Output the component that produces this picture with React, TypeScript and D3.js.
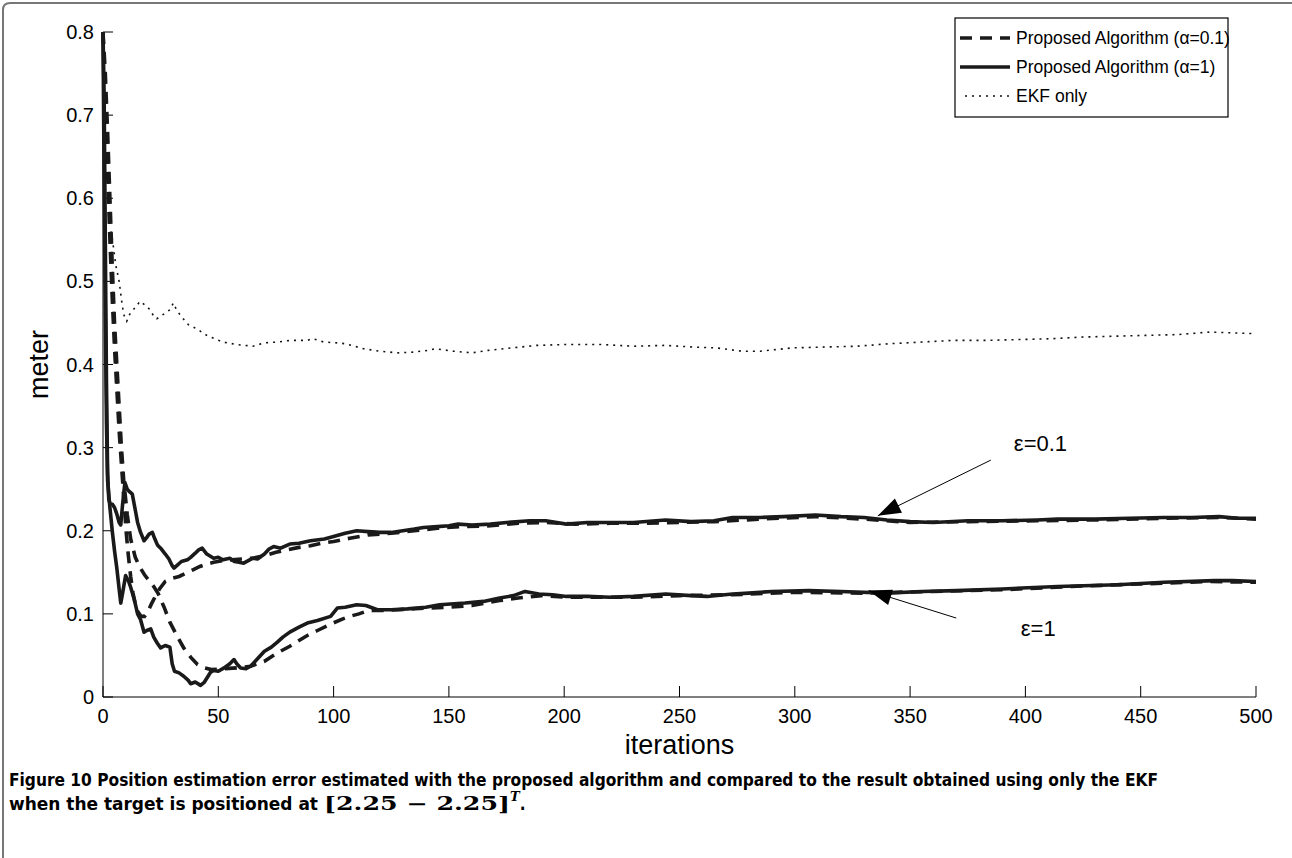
import * as d3 from "d3";

// iterations vs position error (meter)
const xTicks = [0, 50, 100, 150, 200, 250, 300, 350, 400, 450, 500];
const yTicks = [0, 0.1, 0.2, 0.3, 0.4, 0.5, 0.6, 0.7, 0.8];

// eps=0.1, alpha=0.1 (dashed)
const eps01Dashed: [number, number][] = [
  [0, 0.8], [1, 0.72], [2, 0.63], [3, 0.55], [4, 0.48], [5, 0.42], [6, 0.37], [7, 0.32], [8, 0.28],
  [9, 0.24], [10, 0.2], [11, 0.17], [12, 0.145], [13, 0.125], [14, 0.112], [15, 0.103], [16.5, 0.097],
  [18, 0.097], [19.5, 0.103], [21, 0.112], [22.5, 0.12], [24.5, 0.13], [27, 0.139], [30, 0.143],
  [33, 0.145], [36, 0.149], [39, 0.153], [42, 0.157], [45, 0.16], [48, 0.162], [52, 0.164], [56, 0.165],
  [60, 0.166], [65, 0.167], [70, 0.17], [75, 0.174], [80, 0.177], [85, 0.18], [90, 0.182], [95, 0.185],
  [100, 0.187], [107, 0.191], [115, 0.195], [125, 0.197], [135, 0.2], [145, 0.203], [155, 0.205],
  [168, 0.206], [180, 0.209], [192, 0.21], [205, 0.208], [220, 0.209], [235, 0.209], [250, 0.21],
  [265, 0.211], [285, 0.214], [309, 0.217], [330, 0.214], [350, 0.21], [375, 0.211], [405, 0.212],
  [430, 0.213], [460, 0.215], [484, 0.216], [500, 0.214],
];

// eps=0.1, alpha=1 (solid)
const eps01Solid: [number, number][] = [
  [0, 0.8], [0.5, 0.72], [1, 0.55], [1.5, 0.38], [2, 0.27], [2.5, 0.238], [3, 0.233], [4, 0.232],
  [5, 0.228], [6, 0.22], [7, 0.21], [7.7, 0.207], [8.5, 0.232], [9.5, 0.258], [10.5, 0.25], [11.5, 0.247],
  [12.7, 0.244], [14, 0.225], [15, 0.21], [16.3, 0.198], [17.8, 0.188], [19, 0.192], [20, 0.196],
  [21.4, 0.198], [22.5, 0.19], [23.6, 0.183], [25, 0.179], [27, 0.172], [28.6, 0.166], [30, 0.158],
  [30.8, 0.155], [32, 0.158], [34, 0.163], [36.6, 0.165], [38, 0.168], [40, 0.173], [41.5, 0.177],
  [43, 0.179], [45, 0.172], [48, 0.167], [50, 0.168], [52, 0.165], [55, 0.167], [57, 0.163], [59, 0.162],
  [61, 0.161], [63, 0.164], [65, 0.167], [67, 0.166], [70, 0.172], [72, 0.178], [74, 0.181], [77, 0.179],
  [81, 0.184], [85, 0.185], [90, 0.188], [96, 0.19], [100, 0.193], [105, 0.197], [110, 0.2], [115, 0.199],
  [120, 0.198], [125, 0.198], [130, 0.2], [135, 0.202], [139, 0.204], [145, 0.205], [150, 0.206],
  [154, 0.208], [160, 0.207], [168, 0.208], [175, 0.21], [185, 0.212], [192, 0.212], [201, 0.208],
  [210, 0.21], [220, 0.21], [230, 0.21], [244, 0.213], [255, 0.211], [265, 0.212], [273, 0.216],
  [285, 0.216], [295, 0.217], [309, 0.219], [320, 0.217], [330, 0.216], [340, 0.213], [350, 0.211],
  [360, 0.21], [375, 0.212], [390, 0.212], [405, 0.213], [414, 0.214], [430, 0.214], [445, 0.215],
  [460, 0.216], [472, 0.216], [484, 0.217], [492, 0.215], [500, 0.215],
];

// eps=1, alpha=0.1 (dashed)
const eps1Dashed: [number, number][] = [
  [0, 0.8], [1, 0.75], [2, 0.68], [3, 0.6], [4, 0.52], [5, 0.45], [6, 0.4], [7, 0.35], [8, 0.3],
  [9, 0.26], [10.5, 0.22], [12, 0.19], [14, 0.168], [16, 0.156], [18, 0.147], [20, 0.14], [22, 0.133],
  [24, 0.124], [26.5, 0.108], [29, 0.09], [32, 0.074], [35, 0.059], [38, 0.048], [41, 0.039], [44, 0.035],
  [47, 0.033], [52, 0.034], [58, 0.035], [64, 0.037], [70, 0.043], [75.6, 0.053], [81, 0.061], [85, 0.068],
  [88.6, 0.074], [93, 0.08], [99, 0.088], [104, 0.094], [107, 0.097], [111, 0.1], [115, 0.104],
  [120, 0.104], [128, 0.105], [140, 0.107], [150, 0.108], [160, 0.11], [172, 0.116], [180, 0.119],
  [190, 0.122], [201, 0.12], [215, 0.12], [230, 0.12], [250, 0.122], [273, 0.123], [300, 0.126],
  [330, 0.125], [360, 0.127], [390, 0.129], [420, 0.133], [450, 0.136], [480, 0.139], [500, 0.138],
];

// eps=1, alpha=1 (solid)
const eps1Solid: [number, number][] = [
  [0, 0.8], [0.5, 0.62], [1, 0.46], [1.5, 0.33], [2, 0.26], [3, 0.228], [4, 0.2], [5, 0.176], [6, 0.155],
  [7, 0.13], [7.7, 0.113], [8.5, 0.125], [9.8, 0.146], [11, 0.14], [12, 0.132], [13.5, 0.118], [15, 0.1],
  [16.3, 0.093], [17.8, 0.078], [19, 0.08], [20.7, 0.082], [22, 0.072], [23.5, 0.065], [25, 0.059],
  [27, 0.062], [29, 0.06], [30, 0.04], [31, 0.031], [33, 0.029], [35, 0.025], [37, 0.02], [38, 0.016],
  [40, 0.018], [42.3, 0.014], [44, 0.018], [46.7, 0.03], [48, 0.032], [50, 0.031], [52.5, 0.035],
  [55, 0.04], [56.8, 0.045], [58, 0.04], [59.7, 0.035], [62, 0.034], [64, 0.037], [67, 0.046], [70, 0.055],
  [73, 0.06], [75.6, 0.066], [78, 0.072], [81, 0.078], [85, 0.084], [88.6, 0.089], [93, 0.092],
  [98.7, 0.097], [101.6, 0.107], [105, 0.108], [110, 0.111], [114, 0.11], [119, 0.105], [125, 0.105],
  [132, 0.106], [140, 0.108], [146, 0.111], [157, 0.113], [165, 0.115], [172, 0.119], [178, 0.122],
  [183, 0.127], [189, 0.124], [195, 0.123], [201, 0.121], [210, 0.121], [220, 0.12], [230, 0.121],
  [244, 0.124], [255, 0.122], [262, 0.121], [273, 0.124], [280, 0.125], [290, 0.127], [306, 0.128],
  [320, 0.127], [340, 0.125], [355, 0.127], [370, 0.128], [390, 0.13], [414, 0.133], [440, 0.135],
  [460, 0.138], [482, 0.14], [490, 0.14], [500, 0.139],
];

// EKF only (dotted)
const ekfOnly: [number, number][] = [
  [3.5, 0.56], [4.6, 0.54], [5.5, 0.52], [7, 0.5], [8.2, 0.474], [9, 0.46], [10.3, 0.452], [11.5, 0.46],
  [13.2, 0.466], [16.1, 0.476], [18, 0.472], [20.4, 0.466], [22, 0.458], [23.3, 0.455], [26, 0.46],
  [29.1, 0.466], [30.5, 0.474], [32, 0.465], [34.8, 0.455], [37, 0.448], [40.6, 0.443], [45, 0.435],
  [52, 0.427], [58, 0.424], [65, 0.422], [70, 0.426], [75.5, 0.427], [81.3, 0.429], [88.5, 0.429],
  [91, 0.431], [95.8, 0.427], [101.6, 0.426], [105, 0.425], [113, 0.419], [120, 0.416], [128, 0.414],
  [135, 0.415], [141, 0.417], [144, 0.419], [152, 0.416], [160, 0.414], [167, 0.417], [174, 0.419],
  [188, 0.423], [200, 0.424], [216, 0.424], [230, 0.422], [244, 0.423], [256, 0.421], [266, 0.42],
  [277, 0.416], [285, 0.416], [299, 0.42], [313, 0.421], [327, 0.422], [341, 0.425], [355, 0.427],
  [369, 0.429], [383, 0.429], [397, 0.43], [411, 0.431], [425, 0.433], [438, 0.434], [452, 0.435],
  [466, 0.436], [480, 0.439], [490, 0.438], [500, 0.437],
];

const legendLabels = ["Proposed Algorithm (\u03b1=0.1)", "Proposed Algorithm (\u03b1=1)", "EKF only"];

// arrows: label, text pos, tail and tip, all in (iteration, meter)
const notes: { label: string; at: [number, number]; tail: [number, number]; tip: [number, number] }[] = [
  { label: "\u03b5=0.1", at: [395, 0.305], tail: [385, 0.285], tip: [336, 0.218] },
  { label: "\u03b5=1", at: [398, 0.083], tail: [370, 0.095], tip: [332, 0.128] },
];

const W = 1292;
const H = 858;
const SANS = "'Liberation Sans', Arial, Helvetica, sans-serif";
const NARROW = "'Liberation Sans Narrow', 'DejaVu Sans Condensed', 'Liberation Sans', Arial, sans-serif";
const SERIF = "'DejaVu Serif', 'Liberation Serif', serif";

export default function App() {
  const x = d3.scaleLinear().domain([0, 500]).range([103, 1256]);
  const y = d3.scaleLinear().domain([0, 0.8]).range([697, 32]);
  const line = d3.line<[number, number]>().x((d) => x(d[0])).y((d) => y(d[1]));

  const arrowHead = (tail: [number, number], tip: [number, number]) => {
    const tx = x(tip[0]), ty = y(tip[1]);
    const ang = Math.atan2(ty - y(tail[1]), tx - x(tail[0]));
    const L = 23, w = 8;
    const bx = tx - L * Math.cos(ang), by = ty - L * Math.sin(ang);
    const px = -Math.sin(ang) * w, py = Math.cos(ang) * w;
    return `M${tx},${ty}L${bx + px},${by + py}L${bx - px},${by - py}Z`;
  };

  const legX = 955, legY = 18, legW = 273, legH = 99;
  const rows = [38, 67, 96];

  return (
    <div style={{ position: "absolute", left: 0, top: 0 }}>
      <svg width={W} height={H} style={{ display: "block", background: "#fff" }}>
        {/* figure frame */}
        <path d={`M${W},3 L10,3 Q3,3 3,10 L3,${H}`} fill="none" stroke="#777" strokeWidth={2} />

        {/* axes */}
        <line x1={x(0)} x2={x(0)} y1={y(0.8)} y2={y(0)} stroke="#000" strokeWidth={1} />
        <line x1={x(0)} x2={x(500)} y1={y(0)} y2={y(0)} stroke="#000" strokeWidth={1} />
        {yTicks.map((t) => (
          <g key={"y" + t}>
            <line x1={x(0)} x2={x(0) + 10} y1={y(t)} y2={y(t)} stroke="#000" strokeWidth={1} />
            <text x={x(0) - 9} y={y(t)} dy="0.35em" textAnchor="end" fontFamily={SANS} fontSize={20}>
              {t === 0 ? "0" : String(t)}
            </text>
          </g>
        ))}
        {xTicks.map((t) => (
          <g key={"x" + t}>
            <line x1={x(t)} x2={x(t)} y1={y(0)} y2={y(0) - 11} stroke="#000" strokeWidth={1} />
            <text x={x(t)} y={y(0) + 26} textAnchor="middle" fontFamily={SANS} fontSize={20}>
              {t}
            </text>
          </g>
        ))}
        <text x={x(250)} y={754} textAnchor="middle" fontFamily={SANS} fontSize={27}>iterations</text>
        <text transform={`translate(48,${(y(0) + y(0.8)) / 2}) rotate(-90)`} textAnchor="middle" fontFamily={SANS} fontSize={27}>
          meter
        </text>

        {/* series */}
        <path d={line(ekfOnly) ?? ""} fill="none" stroke="#111" strokeWidth={1.6} strokeDasharray="2 5" />
        <path d={line(eps01Dashed) ?? ""} fill="none" stroke="#1a1a1a" strokeWidth={3.6} strokeDasharray="12 8" />
        <path d={line(eps1Dashed) ?? ""} fill="none" stroke="#1a1a1a" strokeWidth={3.6} strokeDasharray="12 8" />
        <path d={line(eps01Solid) ?? ""} fill="none" stroke="#1a1a1a" strokeWidth={3.6} strokeLinejoin="round" />
        <path d={line(eps1Solid) ?? ""} fill="none" stroke="#1a1a1a" strokeWidth={3.6} strokeLinejoin="round" />

        {/* annotations */}
        {notes.map((n) => (
          <g key={n.label}>
            <line x1={x(n.tail[0])} y1={y(n.tail[1])} x2={x(n.tip[0])} y2={y(n.tip[1])} stroke="#000" strokeWidth={1} />
            <path d={arrowHead(n.tail, n.tip)} fill="#000" />
            <text x={x(n.at[0])} y={y(n.at[1])} dy="0.35em" fontFamily={SANS} fontSize={22}>{n.label}</text>
          </g>
        ))}

        {/* legend */}
        <rect x={legX} y={legY} width={legW} height={legH} fill="#fff" stroke="#000" strokeWidth={1.2} />
        <line x1={legX + 5} x2={legX + 55} y1={rows[0]} y2={rows[0]} stroke="#1a1a1a" strokeWidth={3.6} strokeDasharray="12 8" />
        <line x1={legX + 5} x2={legX + 55} y1={rows[1]} y2={rows[1]} stroke="#1a1a1a" strokeWidth={3.6} />
        <line x1={legX + 10} x2={legX + 55} y1={rows[2]} y2={rows[2]} stroke="#111" strokeWidth={1.6} strokeDasharray="2 5" />
        {legendLabels.map((l, i) => (
          <text key={l} x={legX + 61} y={rows[i]} dy="0.35em" fontFamily={SANS} fontSize={17.5}>{l}</text>
        ))}

        {/* caption */}
        <text x={9} y={786} fontFamily={NARROW} fontWeight="bold" fontSize={17} textLength={1149} lengthAdjust="spacingAndGlyphs">
          Figure 10 Position estimation error estimated with the proposed algorithm and compared to the result obtained using only the EKF
        </text>
        <text x={9} y={810} fontFamily={NARROW} fontWeight="bold" fontSize={17}>
          <tspan textLength={309} lengthAdjust="spacingAndGlyphs">when the target is positioned at</tspan>
          <tspan dx={6} fontFamily={SERIF} fontSize={18} textLength={186} lengthAdjust="spacingAndGlyphs">[2.25  − 2.25]</tspan>
          <tspan dy={-9} fontFamily={SERIF} fontStyle="italic" fontSize={13}>T</tspan>
          <tspan dy={9}>.</tspan>
        </text>
      </svg>
    </div>
  );
}
